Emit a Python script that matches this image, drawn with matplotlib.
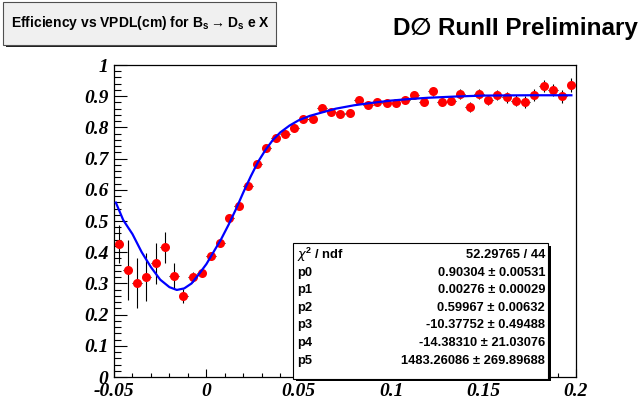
import numpy as np
import matplotlib
matplotlib.use("Agg")
from matplotlib import pyplot as plt
from matplotlib.patches import Rectangle
from matplotlib.ticker import MultipleLocator, FixedLocator, FixedFormatter

# bin centres (50 bins of 0.005 cm between -0.05 and 0.2)
vpdl = np.arange(-0.0475, 0.2, 0.005)
vpdl_err = 0.0025

eff = [0.426, 0.343, 0.300, 0.320, 0.364, 0.416, 0.325, 0.260, 0.320, 0.334,
       0.388, 0.428, 0.509, 0.548, 0.612, 0.683, 0.733, 0.767, 0.779, 0.799,
       0.828, 0.826, 0.863, 0.850, 0.842, 0.845, 0.888, 0.872, 0.880, 0.879,
       0.877, 0.888, 0.904, 0.882, 0.916, 0.882, 0.886, 0.907, 0.864, 0.907,
       0.888, 0.904, 0.896, 0.885, 0.882, 0.904, 0.933, 0.920, 0.900, 0.936]

eff_err = [0.060, 0.095, 0.080, 0.077, 0.067, 0.050, 0.040, 0.022, 0.016, 0.013,
           0.011, 0.010, 0.009, 0.009, 0.009, 0.009, 0.009, 0.009, 0.009, 0.009,
           0.009, 0.009, 0.010, 0.010, 0.010, 0.010, 0.011, 0.011, 0.011, 0.012,
           0.012, 0.012, 0.013, 0.013, 0.014, 0.014, 0.015, 0.015, 0.016, 0.016,
           0.017, 0.017, 0.018, 0.018, 0.019, 0.019, 0.020, 0.020, 0.021, 0.021]

# fitted curve
fit_x = [-0.049, -0.045, -0.040, -0.035, -0.030, -0.025, -0.020, -0.016, -0.012,
         -0.008, -0.004, 0.000, 0.004, 0.008, 0.012, 0.016, 0.020, 0.024, 0.028,
         0.032, 0.036, 0.040, 0.045, 0.050, 0.056, 0.062, 0.070, 0.080, 0.090,
         0.100, 0.110, 0.120, 0.135, 0.150, 0.175, 0.1975]
fit_y = [0.559, 0.503, 0.458, 0.400, 0.352, 0.312, 0.288, 0.279, 0.284,
         0.300, 0.330, 0.362, 0.402, 0.442, 0.488, 0.538, 0.592, 0.643, 0.690,
         0.728, 0.760, 0.784, 0.806, 0.823, 0.837, 0.847, 0.860, 0.871, 0.879,
         0.886, 0.891, 0.895, 0.899, 0.902, 0.903, 0.903]

x_ticks = [-0.05, 0, 0.05, 0.1, 0.15, 0.2]
x_labels = ["-0.05", "0", "0.05", "0.1", "0.15", "0.2"]
y_ticks = [0, 0.1, 0.2, 0.3, 0.4, 0.5, 0.6, 0.7, 0.8, 0.9, 1.0]
y_labels = ["0", "0.1", "0.2", "0.3", "0.4", "0.5", "0.6", "0.7", "0.8", "0.9", "1"]

title = "Efficiency vs VPDL(cm) for B$_\\mathrm{s}$$\\rightarrow$D$_\\mathrm{s}$ e X"
stat_names = ["$\\chi^2$ / ndf", "p0", "p1", "p2", "p3", "p4", "p5"]
stat_values = ["52.29765 / 44",
               "0.90304 \u00b1 0.00531",
               "0.00276 \u00b1 0.00029",
               "0.59967 \u00b1 0.00632",
               "-10.37752 \u00b1 0.49488",
               "-14.38310 \u00b1 21.03076",
               "1483.26086 \u00b1 269.89688"]

plt.rcParams["font.family"] = ["Liberation Sans", "DejaVu Sans"]
plt.rcParams["mathtext.fontset"] = "custom"
plt.rcParams["mathtext.rm"] = "Liberation Sans:bold"
plt.rcParams["mathtext.it"] = "DejaVu Sans:italic"

W, H = 642, 409
fig = plt.figure(figsize=(W / 100, H / 100), dpi=100)
fig.patch.set_facecolor("white")


def fx(px):
    return px / W


def fy(py):
    return 1 - py / H


ax = fig.add_axes([fx(114), fy(377), fx(576) - fx(114), (377 - 65) / H])

ax.errorbar(vpdl, eff, xerr=vpdl_err, yerr=eff_err, fmt="none",
            ecolor="black", elinewidth=0.8, zorder=2)
ax.plot(vpdl, eff, "o", color="#ff0000", markersize=6.5, markeredgewidth=0, zorder=3)
ax.plot(fit_x, fit_y, color="#0000ff", lw=1.6, zorder=4)

ax.set_xlim(-0.05, 0.2)
ax.set_ylim(0, 1)
ax.xaxis.set_major_locator(FixedLocator(x_ticks))
ax.xaxis.set_major_formatter(FixedFormatter(x_labels))
ax.xaxis.set_minor_locator(MultipleLocator(0.01))
ax.yaxis.set_major_locator(FixedLocator(y_ticks))
ax.yaxis.set_major_formatter(FixedFormatter(y_labels))
ax.yaxis.set_minor_locator(MultipleLocator(0.02))

ax.tick_params(axis="both", which="both", direction="in", width=0.8, color="black")
ax.tick_params(axis="y", which="major", length=9.4, pad=4)
ax.tick_params(axis="y", which="minor", length=5)
ax.tick_params(axis="x", which="major", length=5.8, pad=4)
ax.tick_params(axis="x", which="minor", length=2.9)
for lab in ax.get_xticklabels() + ax.get_yticklabels():
    lab.set_family(["Liberation Serif", "DejaVu Serif"])
    lab.set_fontweight("bold")
    lab.set_fontstyle("italic")
    lab.set_fontsize(14)
for sp in ax.spines.values():
    sp.set_linewidth(0.9)
    sp.set_color("black")

# title pave with shadow
fig.patches.append(Rectangle((fx(6), fy(47)), fx(273) - fx(2), (45 - 2) / H,
                             transform=fig.transFigure, facecolor="#202020",
                             edgecolor="none", zorder=1))
fig.patches.append(Rectangle((fx(3), fy(45)), fx(276) - fx(3), (45 - 2) / H,
                             transform=fig.transFigure, facecolor="#f0f0f0",
                             edgecolor="#505050", lw=0.8, zorder=2))
fig.text(fx(140), fy(23), title, ha="center", va="center", fontsize=10,
         fontweight="bold", zorder=3)

fig.text(fx(638), fy(29), "D\u2205 RunII Preliminary", ha="right", va="center",
         fontsize=17.5, fontweight="bold", family=["Liberation Sans", "DejaVu Sans"])

# fit statistics box with shadow
fig.patches.append(Rectangle((fx(296), fy(381)), fx(551) - fx(296), (381 - 246) / H,
                             transform=fig.transFigure, facecolor="black",
                             edgecolor="none", zorder=5))
fig.patches.append(Rectangle((fx(293), fy(379)), fx(548) - fx(293), (379 - 243) / H,
                             transform=fig.transFigure, facecolor="white",
                             edgecolor="black", lw=0.8, zorder=6))
row_y = [255, 273, 290, 308, 325, 343, 361]
for name, val, py in zip(stat_names, stat_values, row_y):
    fig.text(fx(297), fy(py), name, ha="left", va="center", fontsize=9.3,
             fontweight="bold", zorder=7)
    fig.text(fx(545), fy(py), val, ha="right", va="center", fontsize=9.3,
             fontweight="bold", zorder=7)

fig.savefig("out.png", dpi=100)
